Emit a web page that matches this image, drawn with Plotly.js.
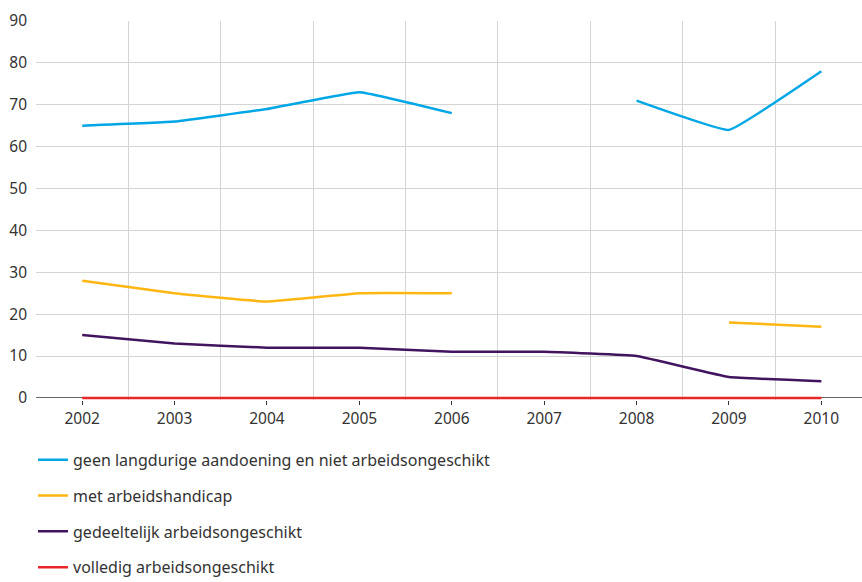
<!DOCTYPE html>
<html>
<head>
<meta charset="utf-8">
<script src="https://cdn.plot.ly/plotly-3.0.1.min.js"></script>
<style>html,body{margin:0;padding:0;background:#fff;}#chart{width:862px;height:582px;}</style>
</head>
<body>
<div id="chart"></div>
<script>
const years = [2002, 2003, 2004, 2005, 2006, 2007, 2008, 2009, 2010];
const geenLangdurig = [65, 66, 69, 73, 68, null, 71, 64, 78];
const metHandicap = [28, 25, 23, 25, 25, null, null, 18, 17];
const gedeeltelijk = [15, 13, 12, 12, 11, 11, 10, 5, 4];
const volledig = [0, 0, 0, 0, 0, 0, 0, 0, 0];
const seriesNames = [
  'geen langdurige aandoening en niet arbeidsongeschikt',
  'met arbeidshandicap',
  'gedeeltelijk arbeidsongeschikt',
  'volledig arbeidsongeschikt'
];
const yTicks = [0, 10, 20, 30, 40, 50, 60, 70, 80, 90];
const colors = ['#00a6e6', '#ffb612', '#42145f', '#e8262a'];
const values = [geenLangdurig, metHandicap, gedeeltelijk, volledig];

const traces = values.map((v, i) => ({
  x: years, y: v, name: seriesNames[i], type: 'scatter', mode: 'lines',
  line: {color: colors[i], width: 2.5, shape: 'spline', smoothing: 0.25},
  connectgaps: false, cliponaxis: false, legendgroup: 'g' + i,
  hoverinfo: 'skip'
}));

const fam = '"Noto Sans", "Open Sans", sans-serif';
const tickFont = {family: fam, size: 15.5, color: '#333'};
const legFont = {family: fam, size: 16, color: '#333'};

const layout = {
  width: 862, height: 582,
  margin: {l: 36, r: 0, t: 21, b: 182, autoexpand: false},
  paper_bgcolor: '#fff', plot_bgcolor: '#fff',
  font: tickFont,
  showlegend: true,
  legend: {
    orientation: 'v', xref: 'paper', yref: 'paper',
    x: -0.0036, y: -0.113, xanchor: 'left', yanchor: 'top',
    tracegroupgap: 12, font: legFont, bgcolor: 'rgba(0,0,0,0)'
  },
  xaxis: {
    range: [2001.5, 2010.44], tickvals: years, ticktext: years.map(String),
    showgrid: false, zeroline: false,
    showline: false,
    ticks: 'outside', ticklen: 4, tickcolor: '#333', tickwidth: 1,
    layer: 'below traces',
    minor: {tick0: 2001.5, dtick: 1, showgrid: true, gridcolor: '#d4d4d4', gridwidth: 1, ticks: ''},
    tickfont: tickFont
  },
  yaxis: {
    range: [-0.5, 90], tickvals: yTicks,
    showgrid: true, gridcolor: '#d4d4d4', gridwidth: 1,
    zeroline: true, zerolinecolor: '#666', zerolinewidth: 1,
    showline: false, ticks: '',
    ticklabelstandoff: 8, layer: 'below traces',
    tickfont: tickFont
  }
};

Plotly.newPlot('chart', traces, layout, {displayModeBar: false, staticPlot: true});
</script>
</body>
</html>
